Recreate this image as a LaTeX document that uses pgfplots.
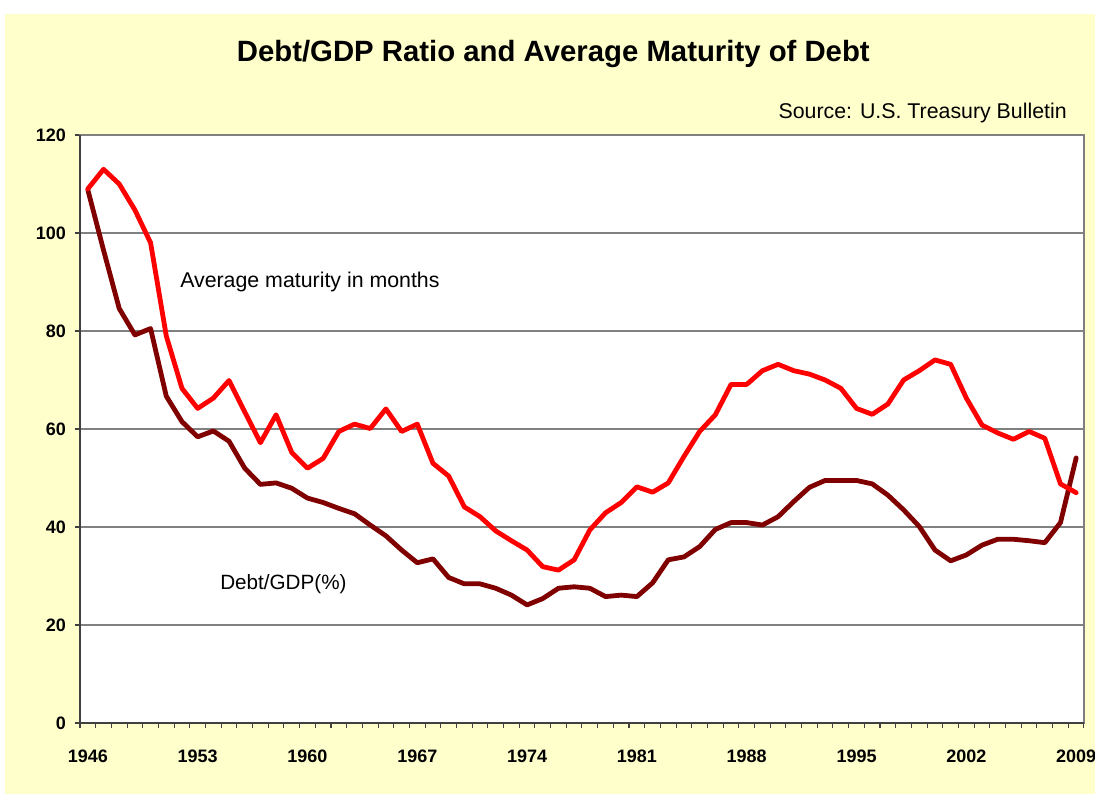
\documentclass[border=0pt]{standalone}
\usepackage{pgfplots}
\pgfplotsset{compat=1.18}
\usepackage{fontspec}
\setmainfont{Liberation Sans}
\definecolor{bgyellow}{RGB}{255,255,204}
\definecolor{gridgray}{RGB}{128,128,128}
\definecolor{matred}{RGB}{255,0,0}
\definecolor{debtred}{RGB}{128,0,0}
\pgfplotstableread{
year mat debt
1946 109.0 108.8
1947 113.0 96.5
1948 110.0 84.6
1949 104.7 79.2
1950 98.0 80.5
1951 79.0 66.7
1952 68.3 61.5
1953 64.2 58.4
1954 66.3 59.6
1955 69.9 57.5
1956 63.5 52.0
1957 57.2 48.7
1958 62.9 49.0
1959 55.2 47.9
1960 52.0 45.9
1961 54.0 45.0
1962 59.5 43.8
1963 61.0 42.7
1964 60.1 40.4
1965 64.1 38.2
1966 59.5 35.3
1967 61.0 32.7
1968 53.0 33.5
1969 50.4 29.7
1970 44.1 28.4
1971 42.1 28.4
1972 39.2 27.5
1973 37.2 26.1
1974 35.3 24.1
1975 31.9 25.4
1976 31.2 27.5
1977 33.3 27.8
1978 39.4 27.5
1979 42.9 25.8
1980 45.0 26.1
1981 48.2 25.8
1982 47.1 28.6
1983 49.0 33.3
1984 54.4 33.9
1985 59.5 36.0
1986 62.9 39.5
1987 69.1 40.9
1988 69.1 40.9
1989 71.9 40.4
1990 73.2 42.1
1991 71.9 45.2
1992 71.2 48.1
1993 70.0 49.5
1994 68.3 49.5
1995 64.2 49.5
1996 63.0 48.8
1997 65.1 46.5
1998 70.0 43.5
1999 71.9 40.1
2000 74.1 35.3
2001 73.2 33.1
2002 66.3 34.3
2003 60.8 36.3
2004 59.2 37.5
2005 57.9 37.5
2006 59.5 37.2
2007 58.1 36.8
2008 48.8 40.9
2009 47.0 54.1
}\datatable
\begin{document}
\begin{tikzpicture}
\useasboundingbox (0,0) rectangle (821.25pt,595.5pt);
\clip (0,0) rectangle (821.25pt,595.5pt);
\fill[white] (0,0) rectangle (821.25pt,595.5pt);
\fill[bgyellow] (3.75pt,0) rectangle (821.25pt,585pt);
\begin{axis}[
  at={(60pt,53.25pt)}, anchor=south west,
  scale only axis, width=753pt, height=441pt,
  xmin=1945.5, xmax=2009.5, ymin=0, ymax=120,
  xtick={1946,1953,...,2009},
  minor xtick={1945.5,1946.5,...,2009.5},
  ytick={0,20,...,120},
  major x tick style={draw=none},
  tick align=outside, tick pos=left,
  major tick length=4pt, minor tick length=4pt,
  tick style={black!75, line width=0.8pt},
  ymajorgrids, grid style={gridgray, line width=1.1pt},
  axis line style={gridgray, line width=1.1pt},
  axis background/.style={fill=white},
  /pgf/number format/assume math mode=true,
  /pgf/number format/1000 sep={},
  ticklabel style={font=\fontsize{13.5}{16}\selectfont\bfseries},
  xticklabel style={yshift=-13pt},
  yticklabel style={xshift=-3pt},
  clip=false,
]
\addplot[debtred, line width=3.6pt, line join=round, line cap=round] table[x=year,y=debt] {\datatable};
\addplot[matred, line width=3.6pt, line join=round, line cap=round] table[x=year,y=mat] {\datatable};
\draw[black!75, line width=1.1pt] (rel axis cs:0,1) -- (rel axis cs:0,0) -- (rel axis cs:1,0);
\end{axis}
\node[anchor=base, font=\fontsize{22}{26}\selectfont\bfseries] at (415pt,549pt) {Debt/GDP Ratio and Average Maturity of Debt};
\node[anchor=base east, inner sep=0pt, font=\fontsize{16}{19}\selectfont] at (800.25pt,506.25pt) {Source: U.S. Treasury Bulletin};
\node[anchor=base west, inner sep=0pt, font=\fontsize{16}{19}\selectfont] at (135pt,380.25pt) {Average maturity in months};
\node[anchor=base west, inner sep=0pt, font=\fontsize{15.5}{19}\selectfont] at (165pt,153.75pt) {Debt/GDP(\%)};
\end{tikzpicture}
\end{document}
